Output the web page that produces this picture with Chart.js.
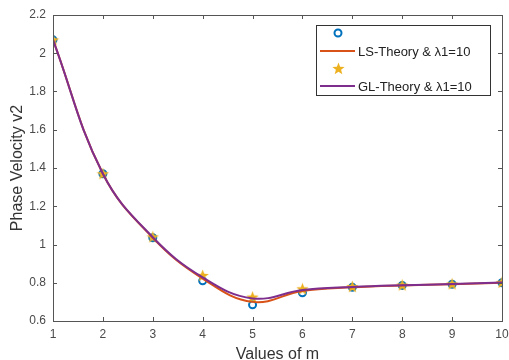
<!DOCTYPE html>
<html lang="en">
<head>
<meta charset="UTF-8">
<title>Phase Velocity</title>
<script src="https://cdn.jsdelivr.net/npm/chart.js"></script>
<style>
  html, body { margin: 0; padding: 0; background: #fff; }
  #wrap { width: 509px; height: 360px; }
</style>
</head>
<body>
<div id="wrap"><canvas id="chart"></canvas></div>
<script>
// values
const mValues = [1, 2, 3, 4, 5, 6, 7, 8, 9, 10];
const lsPoints = [2.07, 1.37, 1.035, 0.81, 0.685, 0.748, 0.776, 0.786, 0.792, 0.80];
const lsCurve  = [2.07, 1.37, 1.035, 0.822, 0.700, 0.757, 0.776, 0.786, 0.792, 0.80];
const glPoints = [2.07, 1.37, 1.04, 0.838, 0.725, 0.768, 0.780, 0.788, 0.794, 0.802];
const glCurve  = [2.07, 1.37, 1.038, 0.828, 0.718, 0.762, 0.778, 0.787, 0.793, 0.801];
const yTicks = [0.6, 0.8, 1, 1.2, 1.4, 1.6, 1.8, 2, 2.2];

const blue = '#0072BD', orange = '#D95319', yellow = '#EDB120', purple = '#7E2F8E';
const textColor = '#4a4a4a';
const font = 'Liberation Sans, Arial, sans-serif';

function pts(ys) { return mValues.map((m, i) => ({ x: m, y: ys[i] })); }

// filled five-point star used as point style
function makeStar(size, color) {
    const c = document.createElement('canvas');
    c.width = size; c.height = size;
    const g = c.getContext('2d');
    const cx = size / 2, cy = size / 2 + 0.5, R = size / 2, r = R * 0.42;
    g.beginPath();
    for (let i = 0; i < 10; i++) {
        const a = -Math.PI / 2 + i * Math.PI / 5;
        const rad = i % 2 === 0 ? R : r;
        g.lineTo(cx + rad * Math.cos(a), cy + rad * Math.sin(a));
    }
    g.closePath();
    g.fillStyle = color;
    g.fill();
    return c;
}
const star = makeStar(13, yellow);

// box, inward ticks and legend in matlab style
const boxPlugin = {
    id: 'box',
    afterDatasetsDraw(chart) {
        const { ctx, chartArea: a, scales: { x, y } } = chart;
        ctx.save();
        ctx.strokeStyle = '#555';
        ctx.lineWidth = 1;
        ctx.beginPath();
        mValues.forEach(m => {
            const px = Math.round(x.getPixelForValue(m)) + 0.5;
            ctx.moveTo(px, a.bottom); ctx.lineTo(px, a.bottom - 4);
            ctx.moveTo(px, a.top); ctx.lineTo(px, a.top + 4);
        });
        yTicks.forEach(v => {
            const py = Math.round(y.getPixelForValue(v)) + 0.5;
            ctx.moveTo(a.left, py); ctx.lineTo(a.left + 4, py);
            ctx.moveTo(a.right, py); ctx.lineTo(a.right - 4, py);
        });
        ctx.stroke();
        ctx.strokeRect(Math.round(a.left) + 0.5, Math.round(a.top) + 0.5,
            Math.round(a.right - a.left), Math.round(a.bottom - a.top));

        // legend
        const lx = 316, ly = 25, lw = 174, lh = 70;
        ctx.fillStyle = '#fff';
        ctx.fillRect(lx, ly, lw, lh);
        ctx.strokeStyle = '#333';
        ctx.strokeRect(lx + 0.5, ly + 0.5, lw, lh);

        ctx.beginPath();
        ctx.arc(338, 33, 3.5, 0, Math.PI * 2);
        ctx.lineWidth = 2;
        ctx.strokeStyle = blue;
        ctx.stroke();

        ctx.lineWidth = 2;
        ctx.strokeStyle = orange;
        ctx.beginPath(); ctx.moveTo(320, 51); ctx.lineTo(355, 51); ctx.stroke();
        ctx.drawImage(star, 332, 62);
        ctx.strokeStyle = purple;
        ctx.beginPath(); ctx.moveTo(320, 86); ctx.lineTo(355, 86); ctx.stroke();

        ctx.fillStyle = '#222';
        ctx.font = '13px ' + font;
        ctx.textBaseline = 'middle';
        ctx.fillText('LS-Theory & \u03bb1=10', 358, 52);
        ctx.fillText('GL-Theory & \u03bb1=10', 358, 87);
        ctx.restore();
    }
};

new Chart(document.getElementById('chart'), {
    type: 'line',
    data: {
        datasets: [
            { label: 'LS points', data: pts(lsPoints), showLine: false, order: 4,
              pointStyle: 'circle', pointRadius: 3.5, pointBorderWidth: 2,
              pointBorderColor: blue, pointBackgroundColor: 'rgba(0,0,0,0)' },
            { label: 'LS-Theory & \u03bb1=10', data: pts(lsCurve), order: 2,
              borderColor: orange, borderWidth: 2, pointRadius: 0, tension: 0.4, fill: false },
            { label: 'GL points', data: pts(glPoints), showLine: false, order: 3,
              pointStyle: star, pointRadius: 6 },
            { label: 'GL-Theory & \u03bb1=10', data: pts(glCurve), order: 1,
              borderColor: purple, borderWidth: 2, pointRadius: 0, tension: 0.4, fill: false }
        ]
    },
    options: {
        responsive: true,
        maintainAspectRatio: false,
        animation: false,
        events: [],
        layout: { padding: { top: 15, right: 6, left: 0, bottom: 0 } },
        plugins: { legend: { display: false }, tooltip: { enabled: false } },
        scales: {
            x: {
                type: 'linear', min: 1, max: 10,
                afterFit(s) { s.height = 39; s.paddingLeft = 0; s.paddingRight = 0; },
                grid: { display: false, drawTicks: false }, border: { display: false },
                ticks: { stepSize: 1, color: textColor, padding: 6, maxRotation: 0,
                         font: { family: font, size: 12 } },
                title: { display: true, text: 'Values of m', color: '#333',
                         font: { family: font, size: 16, lineHeight: 1 }, padding: { top: 0, bottom: -3 } }
            },
            y: {
                type: 'linear', min: 0.6, max: 2.2,
                afterFit(s) { s.width = 53; s.paddingTop = 0; s.paddingBottom = 0; },
                grid: { display: false, drawTicks: false }, border: { display: false },
                ticks: { stepSize: 0.2, color: textColor, padding: 7,
                         font: { family: font, size: 12 },
                         callback: v => String(Number(v.toFixed(1))) },
                title: { display: true, text: 'Phase Velocity v2', color: '#333',
                         font: { family: font, size: 16, lineHeight: 1 }, padding: { top: 10, bottom: 0 } }
            }
        }
    },
    plugins: [boxPlugin]
});
</script>
</body>
</html>
